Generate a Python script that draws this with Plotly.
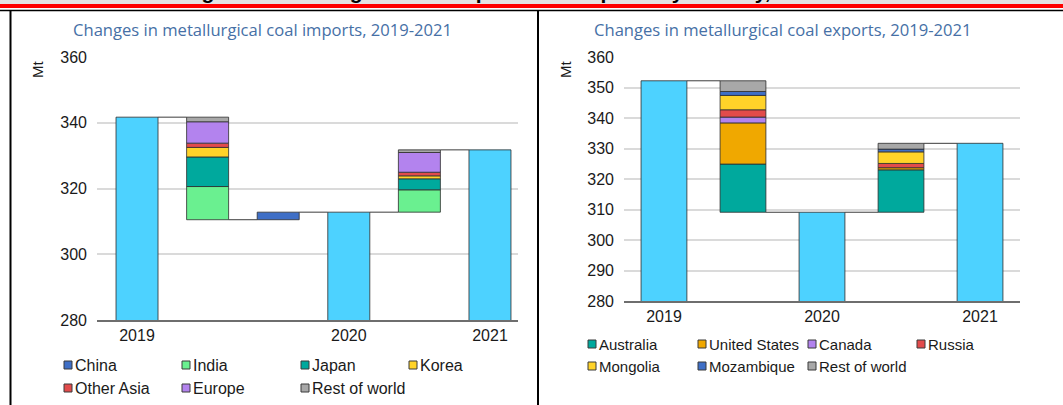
import plotly.graph_objects as go

W, H = 1063, 405

# ---------------- data ----------------
imp_years = ["2019", "2020", "2021"]
imp_totals = [341.7, 312.8, 331.75]
imp_countries = ["China", "India", "Japan", "Korea", "Other Asia", "Europe", "Rest of world"]
imp_chg_1920 = [2.3, -10.1, -9.0, -2.9, -1.3, -6.5, -1.4]
imp_chg_2021 = [0.0, 6.8, 3.35, 0.9, 1.1, 6.0, 0.8]

exp_years = ["2019", "2020", "2021"]
exp_totals = [352.2, 309.1, 331.7]
exp_countries = ["Australia", "United States", "Canada", "Russia", "Mongolia", "Mozambique", "Rest of world"]
exp_chg_1920 = [-15.8, -13.5, -1.9, -2.4, -4.7, -1.3, -3.5]
exp_chg_2021 = [13.9, 0.7, 0.0, 1.4, 3.8, 0.9, 1.9]

# ---------------- styles ----------------
COL = {
    "China": "#3F6FC6", "India": "#6AF090", "Japan": "#00A99D", "Korea": "#FFD329",
    "Other Asia": "#E24B4B", "Europe": "#B383EE", "Rest of world": "#A8A8A8",
    "Australia": "#00A99D", "United States": "#F0A800", "Canada": "#B383EE",
    "Russia": "#E24B4B", "Mongolia": "#FFD329", "Mozambique": "#3F6FC6",
}
TOTAL_COL = "#4DD2FF"
EDGE = dict(color="rgba(45,45,45,0.8)", width=1)
FONT = "Arial, Liberation Sans, sans-serif"


def px(x):
    return x / W


def py(y):
    return 1 - y / H


fig = go.Figure()


def build(countries, totals, changes, xa, ya, bw):
    """Waterfall made of stacked bars with explicit bases."""
    col = 0
    tot_x = [col]
    conn = []  # (x_from, x_to, level)
    level = totals[0]
    seg = {c: ([], [], []) for c in countries}  # x, height, base
    for p, chg in enumerate(changes):
        negs = [(c, v) for c, v in zip(countries, chg) if v < 0]
        poss = [(c, v) for c, v in zip(countries, chg) if v > 0]
        if negs:
            col += 1
            conn.append((col - 1, col, level))
            bottom = level + sum(v for _, v in negs)
            b = bottom
            for c, v in negs:
                seg[c][0].append(col); seg[c][1].append(-v); seg[c][2].append(b)
                b += -v
            level = bottom
        if poss:
            col += 1
            conn.append((col - 1, col, level))
            b = level
            for c, v in poss:
                seg[c][0].append(col); seg[c][1].append(v); seg[c][2].append(b)
                b += v
            level = b
        col += 1
        conn.append((col - 1, col, level))
        tot_x.append(col)
        level = totals[p + 1]

    fig.add_trace(go.Bar(x=tot_x, y=totals, width=bw, marker=dict(color=TOTAL_COL, line=EDGE),
                         xaxis=xa, yaxis=ya, showlegend=False, hoverinfo="y"))
    for c in countries:
        xs, hs, bs = seg[c]
        if xs:
            fig.add_trace(go.Bar(x=xs, y=hs, base=bs, width=bw, name=c,
                                 marker=dict(color=COL[c], line=EDGE),
                                 xaxis=xa, yaxis=ya, showlegend=False))
    cx, cy = [], []
    for a, b, lv in conn:
        cx += [a + bw / 2, b - bw / 2, None]
        cy += [lv, lv, None]
    fig.add_trace(go.Scatter(x=cx, y=cy, mode="lines", line=dict(color="#3c3c3c", width=1),
                             xaxis=xa, yaxis=ya, showlegend=False, hoverinfo="skip"))
    return tot_x


imp_tx = build(imp_countries, imp_totals, [imp_chg_1920, imp_chg_2021], "x", "y", 0.595)
exp_tx = build(exp_countries, exp_totals, [exp_chg_1920, exp_chg_2021], "x2", "y2", 0.58)

axis_common = dict(showgrid=False, zeroline=False, showline=True, linecolor="#6e6e6e", linewidth=1.5,
                   ticks="", automargin=False, tickfont=dict(family=FONT, size=16, color="#1a1a1a"))
yaxis_common = dict(showgrid=True, gridcolor="#dadada", gridwidth=1.5, zeroline=False, showline=False,
                    ticks="", automargin=False, ticklabelstandoff=9,
                    tickfont=dict(family=FONT, size=16, color="#1a1a1a"))

fig.update_layout(
    width=W, height=H, margin=dict(l=0, r=0, t=0, b=0),
    paper_bgcolor="white", plot_bgcolor="white", barmode="overlay", showlegend=False,
    xaxis=dict(domain=[px(97), px(518)], range=[-0.567, 5.397], anchor="y",
               tickvals=imp_tx, ticktext=imp_years, **axis_common),
    yaxis=dict(domain=[py(320), py(57)], range=[280, 360], dtick=20, anchor="x", **yaxis_common),
    xaxis2=dict(domain=[px(624), px(1020)], range=[-0.506, 4.506], anchor="y2",
                tickvals=exp_tx, ticktext=exp_years, **axis_common),
    yaxis2=dict(domain=[py(301), py(57)], range=[280, 360], dtick=10, anchor="x2", **yaxis_common),
)

shapes = []
annots = []

# top banner (clipped report title, red rule, frame)
shapes.append(dict(type="rect", xref="paper", yref="paper", x0=0, x1=1, y0=py(4), y1=1,
                   fillcolor="#e4e4e4", line=dict(width=0), layer="below"))
annots.append(dict(text="<b>Changes in metallurgical coal imports and exports by country, 2019-2021</b>",
                   xref="paper", yref="paper", x=px(147), y=py(4.8), xanchor="left", yanchor="bottom",
                   showarrow=False, font=dict(family=FONT, size=21, color="black")))
shapes.append(dict(type="rect", xref="paper", yref="paper", x0=0, x1=1, y0=py(8), y1=py(4),
                   fillcolor="#ff0000", line=dict(width=0)))
shapes.append(dict(type="line", xref="paper", yref="paper", x0=0, x1=1, y0=py(10.5), y1=py(10.5),
                   line=dict(color="black", width=1.5)))
shapes.append(dict(type="line", xref="paper", yref="paper", x0=px(10.5), x1=px(10.5), y0=0,
                   y1=py(10.5), line=dict(color="black", width=2)))
shapes.append(dict(type="line", xref="paper", yref="paper", x0=px(538), x1=px(538), y0=0,
                   y1=py(10.5), line=dict(color="black", width=2)))

# panel subtitles
for cx, t in [(262, "Changes in metallurgical coal imports, 2019-2021"),
              (783, "Changes in metallurgical coal exports, 2019-2021")]:
    annots.append(dict(text=t, xref="paper", yref="paper", x=px(cx), y=py(29), xanchor="center",
                       yanchor="middle", showarrow=False,
                       font=dict(family="Open Sans, sans-serif", size=16.6, color="#4670A6")))

# unit labels
for cx in [37, 565]:
    annots.append(dict(text="Mt", xref="paper", yref="paper", x=px(cx), y=py(70), xanchor="center",
                       yanchor="middle", textangle=-90, showarrow=False,
                       font=dict(family=FONT, size=15, color="#1a1a1a")))


# manual legends
def legend(countries, xs, ys, fs):
    for i, c in enumerate(countries):
        sx = xs[i % 4]
        sy = ys[i // 4]
        shapes.append(dict(type="rect", xref="paper", yref="paper",
                           x0=px(sx), x1=px(sx + 8), y0=py(sy + 4), y1=py(sy - 4),
                           fillcolor=COL[c], line=dict(color="#3a3a3a", width=1)))
        annots.append(dict(text=c, xref="paper", yref="paper", x=px(sx + 9), y=py(sy + 0.5),
                           xanchor="left", yanchor="middle", showarrow=False,
                           font=dict(family=FONT, size=fs, color="#1a1a1a")))


legend(imp_countries, [64, 182, 301, 409], [365, 388], 16)
legend(exp_countries, [588, 698, 808, 917], [344, 366], 15)

fig.update_layout(shapes=shapes, annotations=annots)
fig.write_html("out.html")
